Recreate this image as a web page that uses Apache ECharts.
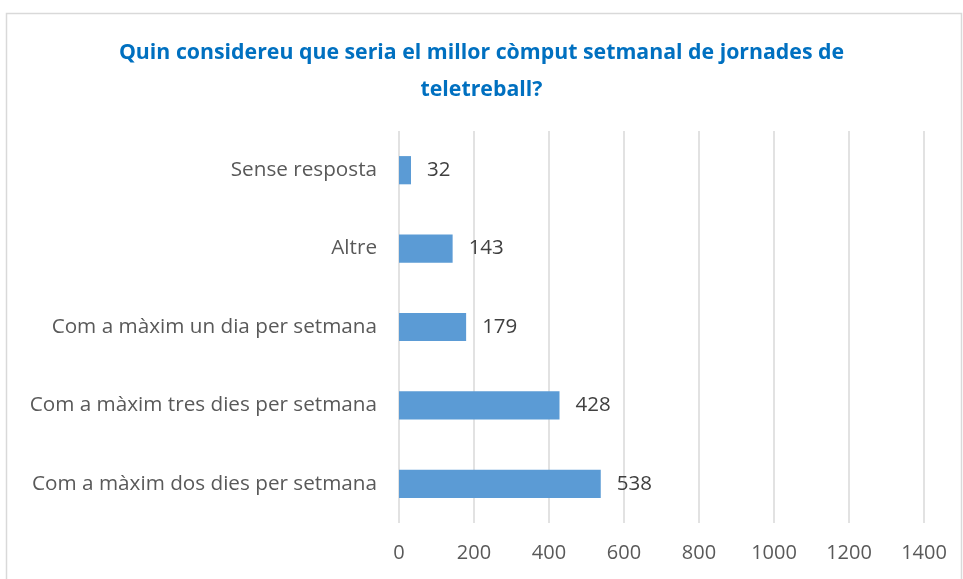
<!DOCTYPE html>
<html><head><meta charset="utf-8">
<script src="https://cdn.jsdelivr.net/npm/echarts@6/dist/echarts.min.js"></script>
<style>html,body{margin:0;padding:0;background:#fff}#c{width:963px;height:579px}</style>
</head><body><div id="c"></div>
<script>
const categories = ['Com a màxim dos dies per setmana','Com a màxim tres dies per setmana','Com a màxim un dia per setmana','Altre','Sense resposta'];
const values = [538, 428, 179, 143, 32];
const xTicks = [0, 200, 400, 600, 800, 1000, 1200, 1400];
const titleText = 'Quin considereu que seria el millor còmput setmanal de jornades de\nteletreball?';

const chart = echarts.init(document.getElementById('c'));
const FONT = 'Open Sans';
chart.setOption({
  animation: false,
  graphic: [{type:'rect', shape:{x:6.5,y:13.5,width:955,height:600}, style:{fill:'none',stroke:'#d9d9d9',lineWidth:1.5}}],
  title: {text: titleText, left: 'center', top: 29,
    textStyle:{color:'#0070C0', fontFamily:FONT, fontWeight:'bold', fontSize:21.3, lineHeight:37}},
  grid: {left: 399, right: 39, top: 131, bottom: 56, containLabel:false},
  xAxis: {type:'value', min:xTicks[0], max:xTicks[xTicks.length-1], interval:xTicks[1]-xTicks[0],
    axisLine:{show:false}, axisTick:{show:false},
    splitLine:{lineStyle:{color:'#d9d9d9', width:1.5}},
    axisLabel:{color:'#595959', fontFamily:FONT, fontSize:20, margin:20, formatter: v => String(v)}},
  yAxis: {type:'category', data: categories,
    axisLine:{show:false}, axisTick:{show:false},
    axisLabel:{color:'#595959', fontFamily:FONT, fontSize:20.7, margin:22}},
  series: [{type:'bar', data: values, barCategoryGap:'64%',
    itemStyle:{color:'#5B9BD5'},
    label:{show:true, position:'right', distance:16, color:'#404040', fontFamily:FONT, fontSize:20.5}}]
});
</script></body></html>
